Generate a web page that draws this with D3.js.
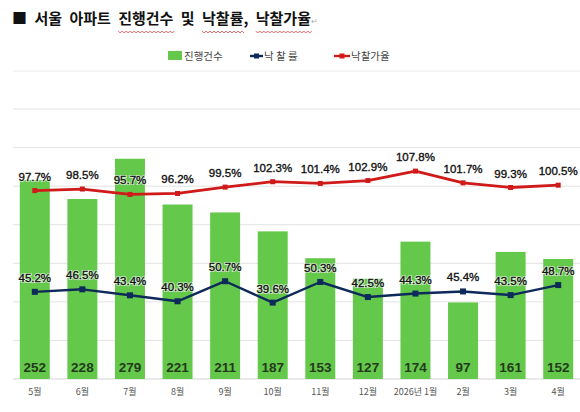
<!DOCTYPE html>
<html>
<head>
<meta charset="utf-8">
<script src="https://cdn.jsdelivr.net/npm/d3@7"></script>
<style>
  body { margin: 0; background: #fff; }
  svg { display: block; }
</style>
</head>
<body>
<div id="chart"></div>
<script>
// data
const months = ['5월', '6월', '7월', '8월', '9월', '10월', '11월', '12월', '2026년 1월', '2월', '3월', '4월'];
const counts = [252, 228, 279, 221, 211, 187, 153, 127, 174, 97, 161, 152];   // 진행건수
const saleRate = [45.2, 46.5, 43.4, 40.3, 50.7, 39.6, 50.3, 42.5, 44.3, 45.4, 43.5, 48.7]; // 낙찰률
const priceRate = [97.7, 98.5, 95.7, 96.2, 99.5, 102.3, 101.4, 102.9, 107.8, 101.7, 99.3, 100.5]; // 낙찰가율
const legendNames = ['진행건수', '낙 찰 률', '낙찰가율'];

const W = 580, H = 412;
const green = '#64c84a', navy = '#0e2a5a', red = '#d01a1a';
const krFont = "'Noto Sans CJK KR', 'Noto Sans', sans-serif";
const numFont = "'Liberation Sans', Arial, sans-serif";

const svg = d3.select('#chart').append('svg')
    .attr('width', W)
    .attr('height', H);

// title
const title = svg.append('text')
    .attr('x', 12)
    .attr('y', 24)
    .attr('font-family', krFont)
    .attr('font-weight', 'bold')
    .attr('font-size', 15)
    .attr('word-spacing', 4)
    .attr('fill', '#111');
title.append('tspan').text('■ 서울 아파트 ');
const w1 = title.append('tspan').text('진행건수');
title.append('tspan').text(' 및 ');
const w2 = title.append('tspan').text('낙찰률');
title.append('tspan').text(', ');
const w3 = title.append('tspan').text('낙찰가율');
title.append('tspan').text('↵')
    .attr('font-size', 8).attr('font-weight', 'normal').attr('fill', '#aaa');

// spell-check squiggles under three words
[w1, w2, w3].forEach(t => {
  const node = t.node();
  const x0 = node.getStartPositionOfChar(0).x;
  const len = node.getComputedTextLength();
  let p = `M${x0},31`;
  for (let x = x0, k = 0; x < x0 + len; x += 2, k++) {
    p += `L${x + 2},${k % 2 ? 31 : 33}`;
  }
  svg.append('path').attr('d', p)
      .attr('fill', 'none').attr('stroke', '#e04040').attr('stroke-width', 0.8);
});

// scales
const x = d3.scaleBand()
    .domain(months)
    .range([11, 582])
    .paddingInner(0.37)
    .paddingOuter(0.185);

const yBar = d3.scaleLinear().domain([0, 342]).range([379, 109]);
const yPct = d3.scaleLinear().domain([0, 140]).range([379, 109]);

// thin frame line under legend
svg.append('line')
    .attr('x1', 13).attr('x2', W)
    .attr('y1', 71).attr('y2', 71)
    .attr('stroke', '#ececec');

// gridlines
svg.append('g')
  .selectAll('line')
  .data(yPct.ticks(7))
  .join('line')
    .attr('x1', 13).attr('x2', W)
    .attr('y1', d => yPct(d)).attr('y2', d => yPct(d))
    .attr('stroke', d => d === 0 ? '#d4d4d4' : '#e2e2e2')
    .attr('stroke-width', 1);

// bars
svg.append('g')
  .selectAll('rect')
  .data(counts)
  .join('rect')
    .attr('x', (d, i) => x(months[i]))
    .attr('y', d => yBar(d))
    .attr('width', x.bandwidth())
    .attr('height', d => yBar(0) - yBar(d))
    .attr('fill', green);

// bar value labels
svg.append('g')
  .selectAll('text')
  .data(counts)
  .join('text')
    .attr('x', (d, i) => x(months[i]) + x.bandwidth() / 2)
    .attr('y', 372)
    .attr('text-anchor', 'middle')
    .attr('font-family', numFont)
    .attr('font-weight', 'bold')
    .attr('font-size', 13.5)
    .attr('fill', '#233a1c')
    .text(d => d);

// month labels
const xAxis = d3.axisBottom(x).tickSize(0).tickPadding(0);
svg.append('g')
    .attr('transform', 'translate(0,389)')
    .call(xAxis)
    .call(g => g.select('.domain').remove())
    .selectAll('text')
    .attr('font-family', krFont)
    .attr('font-size', 9)
    .attr('fill', '#555');

const cx = (d, i) => x(months[i]) + x.bandwidth() / 2;

function drawSeries(values, color, width, msize) {
  const line = d3.line()
      .x(cx)
      .y(d => yPct(d));
  svg.append('path')
      .datum(values)
      .attr('d', line)
      .attr('fill', 'none')
      .attr('stroke', color)
      .attr('stroke-width', width)
      .attr('stroke-linejoin', 'round');
  svg.append('g')
    .selectAll('rect')
    .data(values)
    .join('rect')
      .attr('x', (d, i) => cx(d, i) - msize / 2)
      .attr('y', d => yPct(d) - msize / 2)
      .attr('width', msize)
      .attr('height', msize)
      .attr('fill', color);
  const labels = svg.append('g')
      .attr('font-family', numFont)
      .attr('font-size', 11.5)
      .attr('text-anchor', 'middle');
  // soft white halo first, then the text with a hair of stroke for weight
  labels.selectAll('text.halo')
    .data(values)
    .join('text')
      .attr('class', 'halo')
      .attr('x', cx)
      .attr('y', d => yPct(d) - 14)
      .attr('dy', '0.35em')
      .attr('fill', 'none')
      .attr('stroke', 'rgba(255,255,255,0.7)')
      .attr('stroke-width', 2.2)
      .text(d => d.toFixed(1) + '%');
  labels.selectAll('text.lbl')
    .data(values)
    .join('text')
      .attr('class', 'lbl')
      .attr('x', cx)
      .attr('y', d => yPct(d) - 14)
      .attr('dy', '0.35em')
      .attr('fill', '#111')
      .attr('stroke', '#111')
      .attr('stroke-width', 0.35)
      .text(d => d.toFixed(1) + '%');
}

drawSeries(priceRate, red, 2.8, 5);
drawSeries(saleRate, navy, 2.4, 6);

// legend
const legend = svg.append('g').attr('font-family', krFont).attr('font-size', 10.5).attr('fill', '#444');
legend.append('rect').attr('x', 168).attr('y', 51).attr('width', 14).attr('height', 9).attr('fill', green);
legend.append('text').attr('x', 184).attr('y', 56).attr('dy', '0.35em').text(legendNames[0]);

legend.append('line').attr('x1', 250).attr('x2', 263).attr('y1', 56).attr('y2', 56)
    .attr('stroke', navy).attr('stroke-width', 2.4);
legend.append('rect').attr('x', 254).attr('y', 53.5).attr('width', 5).attr('height', 5).attr('fill', navy);
legend.append('text').attr('x', 264).attr('y', 56).attr('dy', '0.35em').text(legendNames[1]);

legend.append('line').attr('x1', 334).attr('x2', 350).attr('y1', 56).attr('y2', 56)
    .attr('stroke', red).attr('stroke-width', 2.4);
legend.append('rect').attr('x', 339.5).attr('y', 53.5).attr('width', 5).attr('height', 5).attr('fill', red);
legend.append('text').attr('x', 351).attr('y', 56).attr('dy', '0.35em').text(legendNames[2]);
</script>
</body>
</html>
